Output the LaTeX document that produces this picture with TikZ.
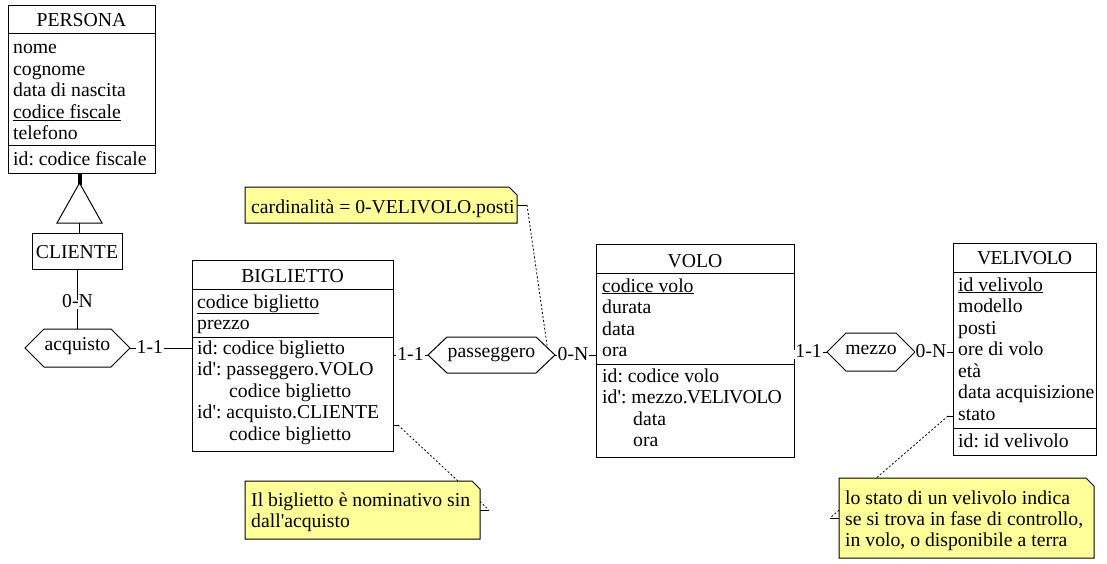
\documentclass[tikz,border=0pt]{standalone}
\usepackage{fontspec}
\setmainfont{Liberation Serif}
\usetikzlibrary{calc}
\definecolor{noteyellow}{RGB}{255,255,153}
\newcommand\hexpath[2]{%
  \draw[line width=1pt] (#1.west) -- ([xshift=#2]#1.north west) -- ([xshift=-#2]#1.north east) -- (#1.east) -- ([xshift=-#2]#1.south east) -- ([xshift=#2]#1.south west) -- cycle;}
\newcommand\notepath[1]{%
  \draw[line width=1pt, fill=noteyellow] (#1.north west) -- ([xshift=-8pt]#1.north east) -- ([yshift=-8pt]#1.north east) -- (#1.south east) -- (#1.south west) -- cycle;}
\newcommand\qs{\textquotesingle}
\newcommand\velname{V\kern-0.6pt E\kern-0.6pt L\kern-0.8pt I\kern-0.6pt V\kern-0.6pt O\kern-0.6pt L\kern-0.8pt O}
\frenchspacing
\begin{document}
\begin{tikzpicture}[x=1pt,y=-1pt,
  every node/.style={font=\fontsize{19.7}{21.5}\selectfont},
  ent/.style={draw, line width=1pt, inner sep=0pt, outer sep=0pt, rectangle},
  txt/.style={anchor=base west, inner sep=0pt},
  ttl/.style={anchor=base, inner sep=0pt},
  hexbox/.style={inner sep=0pt, outer sep=0pt, text height=0.7em, text depth=0.25em},
  card/.style={fill=white, inner sep=1pt, text height=0.7em, text depth=0pt, yshift=-2pt},
  notebox/.style={inner sep=0pt, outer sep=0pt},
  notelink/.style={line width=0.8pt, dash pattern=on 2pt off 2pt},
  sep/.style={line width=1pt},
]
\useasboundingbox (0,0) rectangle (1107,564);

% ---------- PERSONA ----------
\node[ent, minimum width=147pt, minimum height=168pt] (persona) at (81.5,90) {};
\draw[sep] (8,34) -- (155,34);
\draw[sep] (8,146) -- (155,146);
\node[ttl] (persona-t) at (81.5,27) {PERSONA};
\node[txt] (persona-a1) at (13,54) {nome};
\node[txt] (persona-a2) at (13,75.5) {cognome};
\node[txt] (persona-a3) at (13,97) {data di nascita};
\node[txt] (persona-a4) at (13,118.5) {\underline{codice fiscale}};
\node[txt] (persona-a5) at (13,140) {telefono};
\node[txt] (persona-id) at (13,166) {id: codice fiscale};

% ---------- CLIENTE + ISA ----------
\node[ent, minimum width=90pt, minimum height=36pt] (cliente) at (77,251) {};
\node[ttl] (cliente-t) at (77,258) {CLIENTE};
\coordinate (isa) at (79.5,223);
\draw[line width=4pt] (persona.south -| isa) -- ++(0,11);
\draw[line width=1pt, fill=white] (79.5,183) -- (102,223) -- (57,223) -- cycle;
\draw[line width=1pt] (isa) -- (isa |- cliente.north);

% ---------- acquisto ----------
\node[hexbox, minimum width=105pt, minimum height=38pt] (acq) at (77.5,348) {acquisto};
\hexpath{acq}{19pt}
\draw[line width=1pt] (cliente.south -| acq.north) -- node[card, pos=0.55] (acq-c1) {0-N} (acq.north);

% ---------- BIGLIETTO ----------
\node[ent, minimum width=201pt, minimum height=191pt] (big) at (292.5,355.5) {};
\draw[sep] (192,289) -- (393,289);
\draw[sep] (192,337) -- (393,337);
\node[ttl] (big-t) at (292.5,282) {BIGLIETTO};
\node[txt] (big-a1) at (197,308) {\underline{codice biglietto}};
\node[txt] (big-a2) at (197,329.5) {prezzo};
\node[txt] (big-i1) at (197,354) {id: codice biglietto};
\node[txt] (big-i2) at (197,375.5) {id\qs: passeggero.VOLO};
\node[txt] (big-i3) at (229,397) {codice biglietto};
\node[txt] (big-i4) at (197,418.5) {id\qs: acquisto.CLIENTE};
\node[txt] (big-i5) at (229,440) {codice biglietto};

\draw[line width=1pt] (acq.east) -- node[card, pos=0.32] (acq-c2) {1-1} (acq.east -| big.west);

% ---------- passeggero ----------
\node[hexbox, minimum width=127pt, minimum height=36pt] (pas) at (491.5,355) {passeggero};
\hexpath{pas}{19pt}

% ---------- VOLO ----------
\node[ent, minimum width=198pt, minimum height=213pt] (volo) at (695,350.5) {};
\draw[sep] (596,273) -- (794,273);
\draw[sep] (596,364) -- (794,364);
\node[ttl] (volo-t) at (695,267) {VOLO};
\node[txt] (volo-a1) at (602,292) {\underline{codice volo}};
\node[txt] (volo-a2) at (602,313.5) {durata};
\node[txt] (volo-a3) at (602,335) {data};
\node[txt] (volo-a4) at (602,356.5) {ora};
\node[txt] (volo-i1) at (602,382) {id: codice volo};
\node[txt] (volo-i2) at (602,403.5) {id\qs: mezzo.\kern-1pt\velname};
\node[txt] (volo-i3) at (633,425) {data};
\node[txt] (volo-i4) at (633,446.5) {ora};

\draw[line width=1pt] (pas.west -| big.east) -- node[card, pos=0.5] (pas-c1) {1-1} (pas.west);
\draw[line width=1pt] (pas.east) -- node[card, pos=0.44] (pas-c2) {0-N} (pas.east -| volo.west);

% ---------- mezzo ----------
\node[hexbox, minimum width=88pt, minimum height=38pt] (mezzo) at (871,352) {mezzo};
\hexpath{mezzo}{19pt}

% ---------- VELIVOLO ----------
\node[ent, minimum width=143pt, minimum height=212pt] (veli) at (1024.5,349) {};
\draw[sep] (953,272) -- (1096,272);
\draw[sep] (953,428) -- (1096,428);
\node[ttl] (veli-t) at (1024.5,264) {\velname};
\node[txt] (veli-a1) at (958,291) {\underline{id velivolo}};
\node[txt] (veli-a2) at (958,312.5) {modello};
\node[txt] (veli-a3) at (958,334) {posti};
\node[txt] (veli-a4) at (958,355.5) {ore di volo};
\node[txt] (veli-a5) at (958,377) {età};
\node[txt] (veli-a6) at (958,398.5) {data acquisizione};
\node[txt] (veli-a7) at (958,420) {stato};
\node[txt] (veli-id) at (958,447) {id: id velivolo};

\draw[line width=1pt] (mezzo.west -| volo.east) -- node[card, pos=0.44] (mezzo-c1) {1-1} (mezzo.west);
\draw[line width=1pt] (mezzo.east) -- node[card, pos=0.42] (mezzo-c2) {0-N} (mezzo.east -| veli.west);

% ---------- notes ----------
\node[notebox, minimum width=272pt, minimum height=36pt] (n1) at (381,205) {};
\node[notebox, minimum width=235pt, minimum height=58pt] (n2) at (362.5,510) {};
\node[notebox, minimum width=255pt, minimum height=80pt] (n3) at (966.5,518) {};

% links (behind the notes)
\coordinate (pasedge) at ($(pas.east)!0.4!([xshift=-19pt]pas.north east)$);
\draw[line width=1pt] (n1.east) -- ++(10,0) coordinate (n1k);
\draw[notelink] (n1k) -- (pasedge);

\coordinate (bigk0) at (big.east |- 0,425);
\draw[line width=1pt] (bigk0) -- ++(5,0) coordinate (bigk);
\draw[line width=1pt] (n2.east) -- ++(9,0) coordinate (n2k);
\draw[notelink] (bigk) -- (n2k);

\coordinate (velik0) at (veli.west |- 0,416);
\draw[line width=1pt] (velik0) -- ++(-5,0) coordinate (velik);
\draw[line width=1pt] (n3.west) -- ++(-9,0) coordinate (n3k);
\draw[notelink] (velik) -- (n3k);

\notepath{n1}
\notepath{n2}
\notepath{n3}
\node[txt] (n1-t) at (251,213) {cardinalità = 0-VELIVOLO.posti};
\node[txt] (n2-t1) at (251,506) {Il biglietto è nominativo sin};
\node[txt] (n2-t2) at (251,527) {dall\qs acquisto};
\node[txt] (n3-t1) at (845,504) {lo stato di un velivolo indica};
\node[txt] (n3-t2) at (845,525) {se si trova in fase di controllo,};
\node[txt] (n3-t3) at (845,546) {in volo, o disponibile a terra};
\end{tikzpicture}
\end{document}
